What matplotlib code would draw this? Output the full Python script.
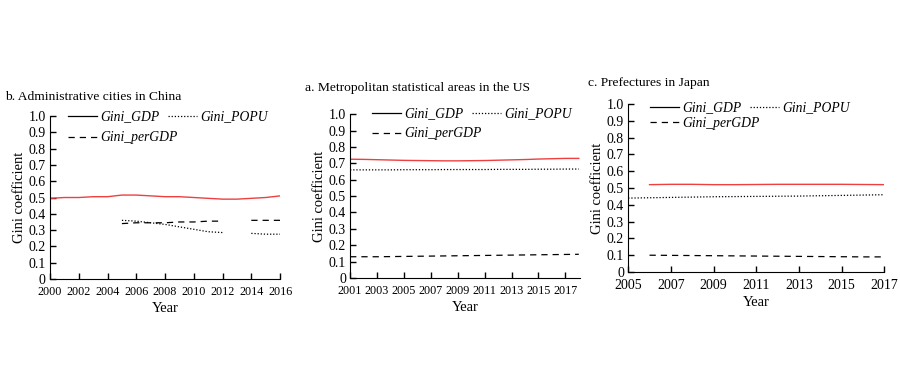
import numpy as np
import matplotlib.pyplot as plt
from matplotlib.lines import Line2D

plt.rcParams['font.family'] = ['Liberation Serif', 'DejaVu Serif']

# b. China
cn_years = list(range(2000, 2017))
cn_gdp = [0.495, 0.50, 0.50, 0.505, 0.505, 0.515, 0.515, 0.51, 0.505, 0.505,
          0.50, 0.495, 0.49, 0.49, 0.495, 0.50, 0.51]
cn_popu = [np.nan] * 5 + [0.36, 0.355, 0.345, 0.335, 0.32, 0.305, 0.29, 0.285,
                          np.nan, 0.28, 0.275, 0.275]
cn_pergdp = [np.nan] * 5 + [0.34, 0.345, 0.345, 0.345, 0.35, 0.35, 0.355, 0.355,
                            np.nan, 0.36, 0.36, 0.36]

# a. US
us_years = list(range(2001, 2019))
us_gdp = [0.725, 0.724, 0.722, 0.72, 0.718, 0.717, 0.716, 0.715, 0.715, 0.716,
          0.717, 0.719, 0.721, 0.723, 0.726, 0.728, 0.73, 0.73]
us_popu = [0.66, 0.66, 0.66, 0.66, 0.661, 0.661, 0.661, 0.662, 0.662, 0.662,
           0.662, 0.663, 0.663, 0.663, 0.664, 0.664, 0.665, 0.665]
us_pergdp = [0.13, 0.13, 0.13, 0.131, 0.132, 0.133, 0.134, 0.135, 0.136, 0.137,
             0.138, 0.139, 0.14, 0.141, 0.142, 0.143, 0.144, 0.145]

# c. Japan
jp_years = list(range(2005, 2018))
jp_gdp = [np.nan, 0.52, 0.522, 0.522, 0.52, 0.52, 0.521, 0.522, 0.522, 0.522,
          0.522, 0.521, 0.52]
jp_popu = [0.44, 0.442, 0.444, 0.446, 0.448, 0.449, 0.45, 0.451, 0.452, 0.454,
           0.456, 0.458, 0.46]
jp_pergdp = [np.nan, 0.10, 0.099, 0.098, 0.097, 0.096, 0.095, 0.094, 0.093,
             0.092, 0.091, 0.09, 0.09]

W, H = 900, 383
# title, data, xlim, xticks, axes rect, title (x, y) px, legend (x, row1 y, row2 y) px, xtick size
panels = [
    ('b. Administrative cities in China', cn_years, cn_gdp, cn_popu, cn_pergdp,
     (2000, 2016), list(range(2000, 2017, 2)),
     [0.0556, 0.2715, 0.2556, 0.4256], (5, 97), (68, 117, 138), 8.7),
    ('a. Metropolitan statistical areas in the US', us_years, us_gdp, us_popu, us_pergdp,
     (2001, 2018.1), list(range(2001, 2018, 2)),
     [0.389, 0.274, 0.2556, 0.428], (305, 88), (372, 114, 134), 8.7),
    ('c. Prefectures in Japan', jp_years, jp_gdp, jp_popu, jp_pergdp,
     (2005, 2017), list(range(2005, 2018, 2)),
     [0.698, 0.2898, 0.2844, 0.4386], (588, 83), (650, 108, 123), 10),
]

fig = plt.figure(figsize=(9, 3.83), dpi=100)
red = '#ee4040'
dot = (0, (1, 1.5))
dash = (0, (5, 4))

for title, yrs, gdp, popu, pergdp, xlim, xt, pos, tpos, lpos, xts in panels:
    ax = fig.add_axes(pos)
    ax.plot(yrs, gdp, color=red, lw=1.0)
    ax.plot(yrs, popu, color='black', lw=0.9, linestyle=dot)
    ax.plot(yrs, pergdp, color='black', lw=0.9, linestyle=dash)
    ax.set_xlim(*xlim)
    ax.set_ylim(0, 1.0)
    ax.set_xticks(xt)
    ax.set_yticks(np.arange(0, 1.01, 0.1))
    ax.set_yticklabels(['0'] + ['%.1f' % v for v in np.arange(0.1, 1.01, 0.1)])
    ax.tick_params(direction='in', length=4, width=1)
    ax.tick_params(axis='x', labelsize=xts, pad=5)
    ax.tick_params(axis='y', labelsize=10, pad=3)
    for s in ['top', 'right']:
        ax.spines[s].set_visible(False)
    ax.set_xlabel('Year', fontsize=10.5, labelpad=3)
    ax.set_ylabel('Gini coefficient', fontsize=10.5, labelpad=2)
    fig.text(tpos[0] / W, 1 - tpos[1] / H, title, fontsize=9.7,
             ha='left', va='center')

    kw = dict(frameon=False, prop={'style': 'italic', 'size': 9.8},
              handlelength=2.1, handletextpad=0.25, columnspacing=0.65,
              borderpad=0, borderaxespad=0, loc='center left',
              bbox_transform=fig.transFigure)
    leg1 = ax.legend([Line2D([], [], color='black', lw=0.9),
                      Line2D([], [], color='black', lw=0.9, linestyle=dot)],
                     ['Gini_GDP', 'Gini_POPU'], ncol=2,
                     bbox_to_anchor=(lpos[0] / W, 1 - lpos[1] / H), **kw)
    ax.add_artist(leg1)
    ax.legend([Line2D([], [], color='black', lw=0.9, linestyle=dash)],
              ['Gini_perGDP'], bbox_to_anchor=(lpos[0] / W, 1 - lpos[2] / H), **kw)

fig.savefig('out.png', dpi=100)
